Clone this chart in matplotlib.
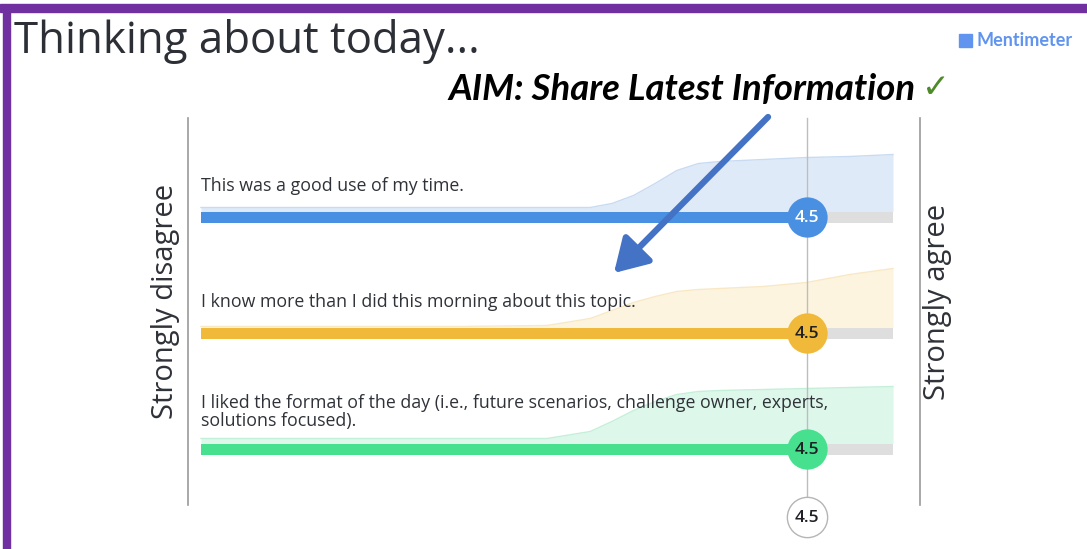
import matplotlib
matplotlib.use("Agg")
import matplotlib.pyplot as plt
from matplotlib.patches import Rectangle, FancyArrowPatch
from matplotlib.lines import Line2D

# survey data
statements = [
    "This was a good use of my time.",
    "I know more than I did this morning about this topic.",
    "I liked the format of the day (i.e., future scenarios, challenge owner, experts,\nsolutions focused).",
]
means = [4.5, 4.5, 4.5]
overall_mean = 4.5
scale_min, scale_max = 1, 5
low_label = "Strongly disagree"
high_label = "Strongly agree"

# answer distribution (height of shaded curve in px)
dist_scores = [1, 1.5, 2, 2.5, 3, 3.25, 3.375, 3.5, 3.625, 3.75, 3.875, 4, 4.25, 4.5, 4.75, 5]
dist_blue = [4, 4, 4, 4, 4, 4, 8, 16, 28, 41, 48, 50, 52, 54, 55, 57]
dist_yellow = [1, 1, 1, 1, 2, 9, 17, 25, 31, 36, 38, 39, 41, 45, 53, 59]
dist_green = [5, 5, 5, 5, 5, 12, 22, 33, 42, 49, 52, 53, 54, 55, 56, 57]
dists = [dist_blue, dist_yellow, dist_green]

bar_colors = ["#4a90e2", "#f0b93a", "#46e08f"]
fill_colors = ["#dfeaf8", "#fdf4df", "#ddf7ea"]
edge_colors = ["#c8dbf2", "#f8e8c4", "#c4efd9"]
text_colors = ["white", "#1e2026", "#1e2026"]

W, H = 1087, 549
fig = plt.figure(figsize=(W / 100, H / 100), dpi=100)
fig.patch.set_facecolor("white")

def fx(px):
    return px / W

def fy(py):
    return 1 - py / H

# axes: x in score units, y in pixel rows (top = 0)
ax = fig.add_axes([0, 0, 1, 1])
px_per_unit = (893 - 201) / (scale_max - scale_min)
ax.set_xlim(scale_min - 201 / px_per_unit, scale_min + (W - 201) / px_per_unit)
ax.set_ylim(H, 0)
ax.axis("off")

row_y = [217, 333, 449]
bar_h = 11
menti_font = "Open Sans"

ax.plot([overall_mean, overall_mean], [118, 497], color="#bdbdbd", lw=1, zorder=1)

for i, y in enumerate(row_y):
    top = y - bar_h / 2
    ax.fill_between(dist_scores, [top - d for d in dists[i]], top,
                    color=fill_colors[i], lw=0, zorder=0)
    ax.plot(dist_scores, [top - d for d in dists[i]], color=edge_colors[i], lw=1, zorder=0)
    ax.barh(y, means[i] - scale_min, left=scale_min, height=bar_h, color=bar_colors[i], zorder=2)
    ax.barh(y, scale_max - means[i], left=means[i], height=bar_h, color="#dedede", zorder=1.5)
    ax.plot(means[i], y, "o", ms=29, color=bar_colors[i], mec="none", zorder=3)
    ax.text(means[i], y + 1, f"{means[i]:.1f}", ha="center", va="center", fontsize=12.5,
            color=text_colors[i], family=menti_font, fontweight="semibold", zorder=4)
    n_lines = statements[i].count("\n") + 1
    ax.text(scale_min, y - 31 - (n_lines - 1) * 6, statements[i], ha="left", va="center",
            fontsize=12.8, color="#2f3238", family=menti_font, linespacing=1.0, zorder=4)

ax.plot(overall_mean, 517, "o", ms=29, mfc="white", mec="#b5b5b5", mew=1, zorder=3)
ax.text(overall_mean, 518, f"{overall_mean:.1f}", ha="center", va="center", fontsize=12.5,
        color="#1e2026", family=menti_font, fontweight="semibold", zorder=4)

# side scale lines and labels
for px in (188, 920):
    fig.add_artist(Line2D([fx(px), fx(px)], [fy(118), fy(505)], color="#9a9a9a", lw=1.2))
fig.text(fx(166), fy(301), low_label, rotation=90, ha="center", va="center",
         fontsize=21, color="#2f3238", family=menti_font)
fig.text(fx(938), fy(302), high_label, rotation=90, ha="center", va="center",
         fontsize=21, color="#2f3238", family=menti_font)

# title, logo, aim note
fig.text(fx(14), fy(42), "Thinking about today...", ha="left", va="center",
         fontsize=31.5, color="#2c2f36", family=menti_font)
fig.add_artist(Rectangle((fx(959), fy(47)), fx(13), 13 / H, color="#6194ee"))
fig.text(fx(977), fy(41), "Mentimeter", ha="left", va="center", fontsize=13,
         color="#6194ee", family="Lato", fontweight="bold")
fig.text(fx(448), fy(90), "AIM: Share Latest Information", ha="left", va="center",
         fontsize=26.3, color="black", family="Lato", fontweight="bold", fontstyle="italic")
fig.text(fx(922), fy(88), "\u2713", ha="left", va="center", fontsize=24,
         color="#4e8a2a", family="DejaVu Sans", fontweight="bold")

arrow = FancyArrowPatch((fx(770), fy(115)), (fx(612), fy(275)), transform=fig.transFigure,
                        arrowstyle="-|>,head_length=20,head_width=12", lw=4.5,
                        color="#4472c4", mutation_scale=1)
fig.add_artist(arrow)

# purple slide frame
fig.add_artist(Rectangle((0, fy(12)), 1, 8 / H, color="#7030a0"))
fig.add_artist(Rectangle((fx(3), 0), fx(7), fy(12), color="#7030a0"))

fig.savefig("out.png", dpi=100)
